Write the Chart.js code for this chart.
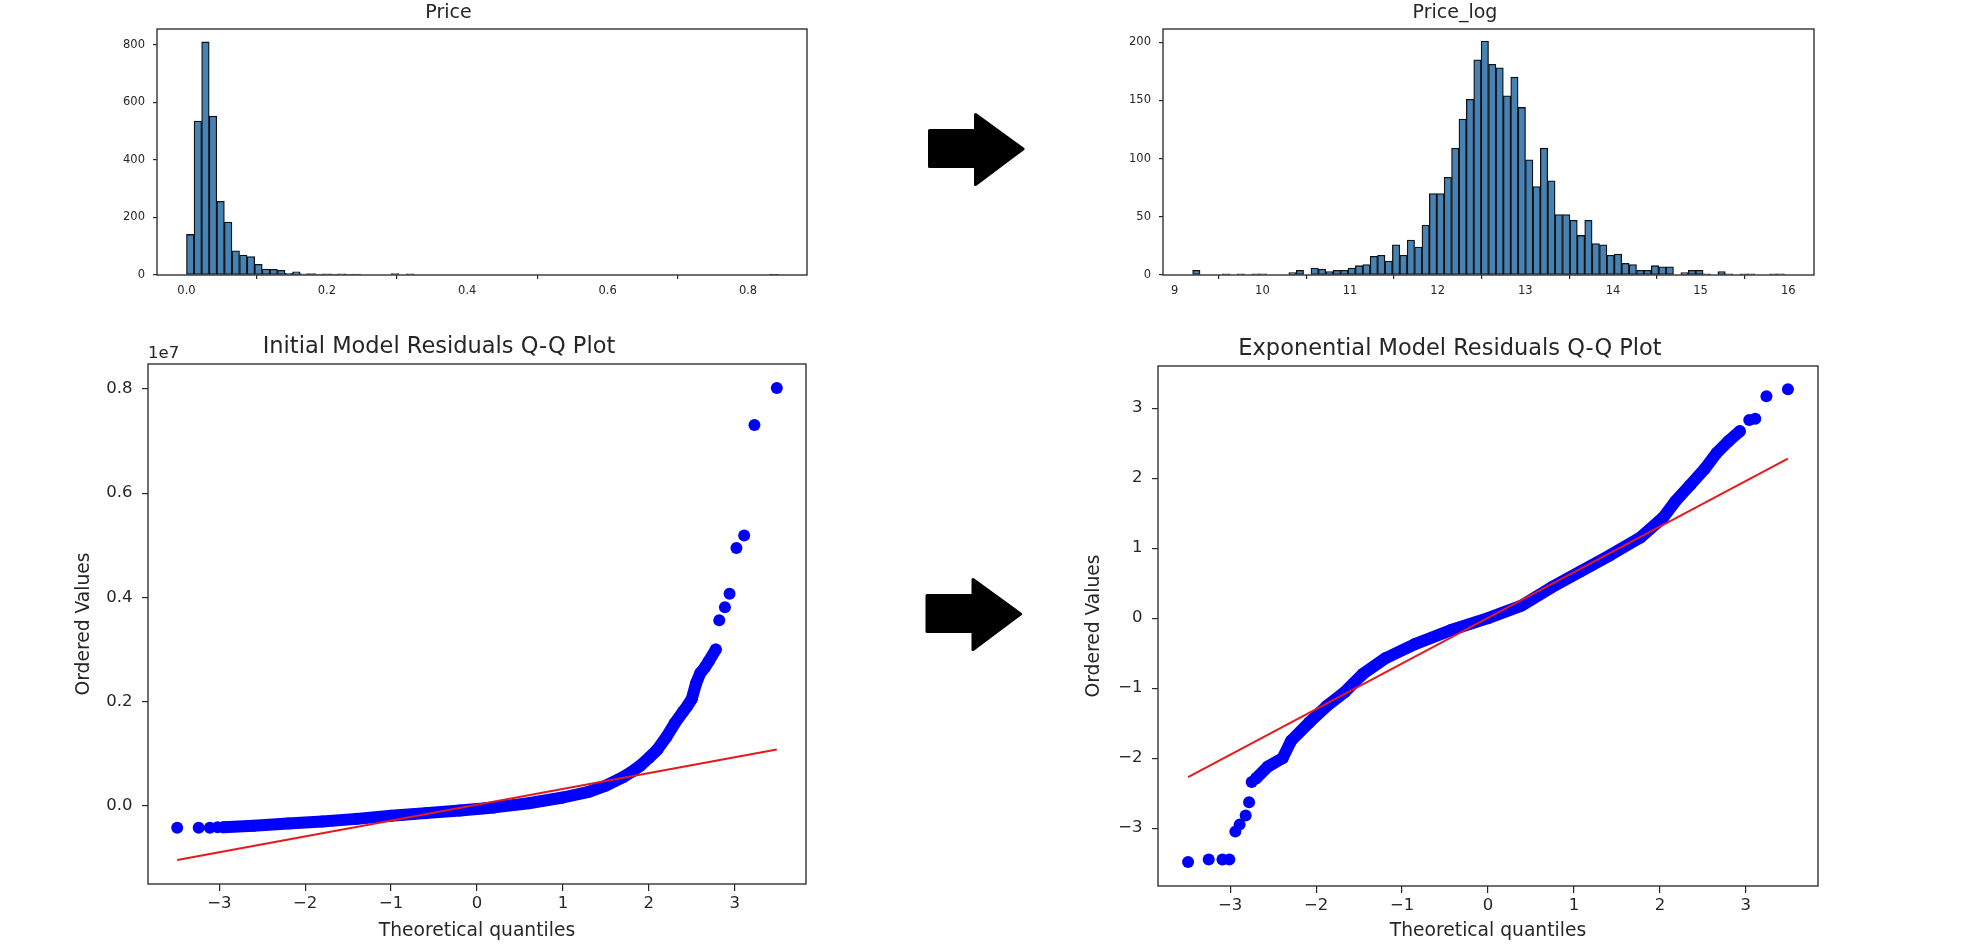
<!DOCTYPE html>
<html><head><meta charset="utf-8">
<script src="https://cdn.jsdelivr.net/npm/chart.js@4.4.1/dist/chart.umd.min.js"></script>
<style>
html,body{margin:0;padding:0;background:#fff;}
body{width:1973px;height:950px;position:relative;overflow:hidden;}
.box{position:absolute;}
svg.arrows{position:absolute;left:0;top:0;}
</style></head><body>
<div class="box" style="left:90px;top:0px;width:727px;height:310px"><canvas id="cA"></canvas></div>
<div class="box" style="left:1096px;top:0px;width:728px;height:310px"><canvas id="cB"></canvas></div>
<div class="box" style="left:72px;top:320px;width:744px;height:630px"><canvas id="cC"></canvas></div>
<div class="box" style="left:1082px;top:322px;width:746px;height:628px"><canvas id="cD"></canvas></div>
<svg class="arrows" width="1973" height="950">
  <g fill="#000" stroke="#000" stroke-width="3" stroke-linejoin="round">
    <polygon points="929.5,130.5 975.5,130.5 975.5,114.5 1023,149 975.5,184.5 975.5,166.5 929.5,166.5"/>
    <polygon transform="translate(-2.5,465)" points="929.5,130.5 975.5,130.5 975.5,114.5 1023,149 975.5,184.5 975.5,166.5 929.5,166.5"/>
  </g>
</svg>
<script>
// ---------------- DATA ----------------
// Histogram of Price (78 equal bins starting at priceBinStart)
const priceBinStart = 0.0;
const priceBinWidth = 0.010795;
const priceCounts = [141,535,810,552,256,184,84,69,64,37,21,20,16,6,11,4,5,3,4,3,4,2,3,0,0,0,0,5,0,4,
  0,0,0,0,0,0,0,0,0,0,0,0,0,0,0,0,0,0,0,0,0,0,0,0,0,0,0,0,0,0,0,0,0,0,0,0,0,0,0,0,0,0,0,0,0,0,0,1];
const priceXTicks = [0, 0.2, 0.4, 0.6, 0.8];
const priceYTicks = [0, 200, 400, 600, 800];

// Histogram of Price_log (80 equal bins starting at logBinStart)
const logBinStart = 9.204;
const logBinWidth = 0.08441;
const logCounts = [4,0,0,0,1,0,1,0,1,1,0,0,0,2,4,0,6,5,3,4,4,6,8,9,16,17,12,26,17,30,
  24,43,70,70,84,109,134,151,185,201,181,178,154,170,144,99,76,109,81,52,52,47,34,47,27,26,17,18,10,9,
  4,4,8,7,7,0,2,4,4,1,0,3,1,0,1,1,0,0,1,1];
const logXTicks = [9, 10, 11, 12, 13, 14, 15, 16];
const logYTicks = [0, 50, 100, 150, 200];

// Initial model Q-Q (ordered values in units of 1e7)
const initialBandQ = [-2.95,-2.6,-2.2,-1.8,-1.4,-1.0,-0.6,-0.2,0.2,0.6,1.0,1.3,1.5,1.7,1.8,1.9,2.0,2.1,2.2,2.3,2.4,2.45,2.5,2.55,2.6,2.65,2.7,2.78];
const initialBandV = [-0.041,-0.038,-0.034,-0.030,-0.025,-0.019,-0.014,-0.009,-0.003,0.005,0.016,0.027,0.039,0.055,0.065,0.077,0.092,0.108,0.131,0.158,0.181,0.192,0.205,0.235,0.255,0.265,0.278,0.300];
const initialOutQ = [-3.49,-3.24,-3.11,-3.02,2.82,2.886,2.94,3.02,3.11,3.23,3.49];
const initialOutV = [-0.042,-0.042,-0.042,-0.041,0.356,0.381,0.407,0.495,0.519,0.731,0.802];
const initialFitQ = [-3.49, 3.49];
const initialFitV = [-0.104, 0.108];
const qqXTicks = [-3,-2,-1,0,1,2,3];
const initialYTicks = [0.0, 0.2, 0.4, 0.6, 0.8];

// Exponential model Q-Q
const expBandQ = [-2.70,-2.56,-2.39,-2.29,-2.08,-1.88,-1.67,-1.46,-1.19,-0.85,-0.43,0,0.39,0.74,1.08,1.42,1.77,2.04,2.18,2.35,2.52,2.66,2.80,2.93];
const expBandV = [-2.29,-2.12,-2.00,-1.75,-1.49,-1.26,-1.06,-0.80,-0.57,-0.37,-0.17,0,0.18,0.44,0.67,0.90,1.15,1.44,1.67,1.90,2.13,2.36,2.53,2.67];
const expOutQ = [-3.49,-3.25,-3.09,-3.01,-2.94,-2.89,-2.82,-2.78,-2.75,3.04,3.11,3.24,3.49];
const expOutV = [-3.485,-3.45,-3.45,-3.45,-3.05,-2.95,-2.82,-2.63,-2.34,2.83,2.85,3.17,3.27];
const expFitQ = [-3.49, 3.49];
const expFitV = [-2.27, 2.28];
const expYTicks = [-3,-2,-1,0,1,2,3];

// ---------------- STYLE / HELPERS ----------------
const FONT = "'DejaVu Sans', sans-serif";
const INK = '#262626';
Chart.defaults.font.family = FONT;
Chart.defaults.color = INK;
Chart.defaults.animation = false;

const minusFmt = v => (v < 0 ? '\u2212' + Math.abs(v) : String(v));

function axis(o) {
  const a = {
    type: 'linear', min: o.min, max: o.max, offset: false,
    afterBuildTicks: s => { s.ticks = o.ticks.map(v => ({ value: v })); },
    ticks: { font: { size: o.size }, color: INK, padding: o.pad, autoSkip: false, maxRotation: 0, callback: o.fmt },
    grid: { drawOnChartArea: false, drawTicks: true, tickLength: o.tl, color: INK, lineWidth: 1.2 },
    border: { display: false },
    title: o.title ? { display: true, text: o.title, font: { size: o.titleSize }, color: INK, padding: o.titlePad } : { display: false }
  };
  if (o.w) a.afterFit = s => { s.width = o.w; };
  if (o.h) a.afterFit = s => { s.height = o.h; };
  return a;
}

const frame = {
  id: 'frame',
  afterDatasetsDraw(chart) {
    const { ctx, chartArea: c } = chart;
    ctx.save();
    ctx.strokeStyle = '#333';
    ctx.lineWidth = 1.4;
    ctx.strokeRect(c.left, c.top, c.right - c.left, c.bottom - c.top);
    ctx.restore();
  }
};
const offsetLabel = {
  id: 'offsetLabel',
  afterDraw(chart) {
    const { ctx, chartArea: c } = chart;
    ctx.save();
    ctx.font = '16.5px ' + FONT;
    ctx.fillStyle = INK;
    ctx.textAlign = 'left';
    ctx.textBaseline = 'alphabetic';
    ctx.fillText('1e7', c.left, c.top - 6);
    ctx.restore();
  }
};

function histChart(id, title, start, width, counts, xr, xt, xfmt, yr, yt) {
  const data = counts.map((c, i) => ({ x: start + (i + 0.5) * width, y: c }));
  new Chart(document.getElementById(id), {
    type: 'bar',
    data: { datasets: [{ data, backgroundColor: 'rgb(70,130,180)', borderColor: '#111', borderWidth: 1.3,
      borderSkipped: false, barPercentage: 1, categoryPercentage: 1 }] },
    options: {
      responsive: true, maintainAspectRatio: false, devicePixelRatio: 1,
      layout: { padding: { left: 0, right: 10, top: 0, bottom: 0 } },
      plugins: { legend: { display: false }, tooltip: { enabled: false },
        title: { display: true, text: title, font: { size: 19, weight: 'normal' }, color: INK, padding: { top: 1.6, bottom: 4.6 } } },
      scales: {
        x: axis({ min: xr[0], max: xr[1], ticks: xt, fmt: xfmt, size: 11.5, pad: 5, tl: 4, h: 35 }),
        y: axis({ min: yr[0], max: yr[1], ticks: yt, fmt: v => String(v), size: 11.5, pad: 8, tl: 4, w: 67 })
      }
    },
    plugins: [frame]
  });
}

function qqChart(id, title, fitQ, fitV, bandQ, bandV, outQ, outV, xr, yr, yt, yfmt, xh, extra) {
  const pts = (q, v) => q.map((x, i) => ({ x, y: v[i] }));
  new Chart(document.getElementById(id), {
    type: 'scatter',
    data: { datasets: [
      { data: pts(fitQ, fitV), showLine: true, borderColor: 'rgb(228,26,28)', borderWidth: 2, pointRadius: 0 },
      { data: pts(bandQ, bandV), showLine: true, borderColor: '#0000ff', borderWidth: 12, borderCapStyle: 'round',
        borderJoinStyle: 'round', pointRadius: 6, pointBorderWidth: 0, backgroundColor: '#0000ff', tension: 0 },
      { data: pts(outQ, outV), showLine: false, pointRadius: 6, pointBorderWidth: 0, backgroundColor: '#0000ff' }
    ] },
    options: {
      responsive: true, maintainAspectRatio: false, devicePixelRatio: 1,
      layout: { padding: { left: 0, right: 10, top: 0, bottom: 0 } },
      plugins: { legend: { display: false }, tooltip: { enabled: false },
        title: { display: true, text: title, font: { size: 22.5, weight: 'normal' }, color: INK, padding: { top: 13.2, bottom: 3.8 } } },
      scales: {
        x: axis({ min: xr[0], max: xr[1], ticks: qqXTicks, fmt: minusFmt, size: 16.5, pad: 2.5, tl: 7, h: xh,
          title: 'Theoretical quantiles', titleSize: 18.7, titlePad: { top: 0, bottom: 7.7 } }),
        y: axis({ min: yr[0], max: yr[1], ticks: yt, fmt: yfmt, size: 16.5, pad: 9.5, tl: 6, w: 76,
          title: 'Ordered Values', titleSize: 18.7, titlePad: { top: 0.8, bottom: 0 } })
      }
    },
    plugins: extra ? [frame, extra] : [frame]
  });
}

histChart('cA', 'Price', priceBinStart, priceBinWidth, priceCounts, [-0.042, 0.884], priceXTicks, v => v.toFixed(1), [0, 855], priceYTicks);
histChart('cB', 'Price_log', logBinStart, logBinWidth, logCounts, [8.866, 16.294], logXTicks, v => String(v), [0, 211.4], logYTicks);

qqChart('cC', 'Initial Model Residuals Q-Q Plot', initialFitQ, initialFitV, initialBandQ, initialBandV, initialOutQ, initialOutV,
  [-3.83, 3.83], [-0.150, 0.848], initialYTicks, v => v.toFixed(1), 66, offsetLabel);
qqChart('cD', 'Exponential Model Residuals Q-Q Plot', expFitQ, expFitV, expBandQ, expBandV, expOutQ, expOutV,
  [-3.84, 3.84], [-3.827, 3.603], expYTicks, minusFmt, 64, null);
</script>
</body></html>
